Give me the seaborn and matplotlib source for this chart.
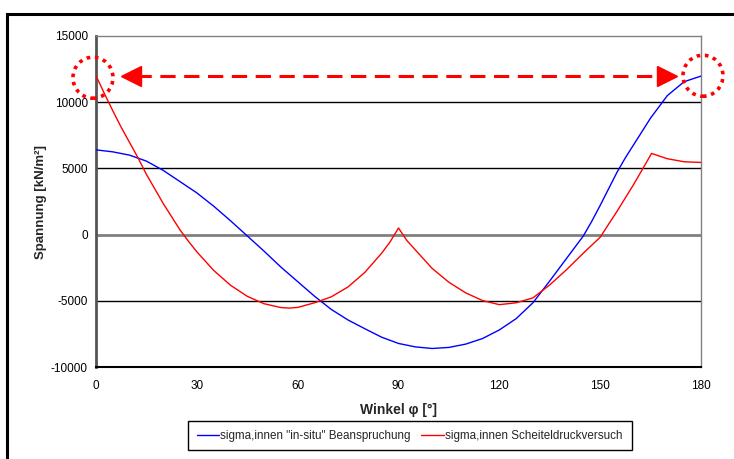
import matplotlib
matplotlib.use('Agg')
import matplotlib.pyplot as plt
from matplotlib.patches import Ellipse, Rectangle
import seaborn as sns
import pandas as pd

# Winkel in Grad
winkel = [0, 5, 10, 15, 20, 25, 30, 35, 40, 45, 50, 55, 60, 65, 70, 75, 80, 85, 90,
          95, 100, 105, 110, 115, 120, 125, 130, 135, 140, 142.5, 145, 147.5, 150,
          152.5, 155, 157.5, 160, 165, 170, 175, 180]

# sigma,innen "in-situ" Beanspruchung
sigma_insitu = [6400, 6250, 6000, 5550, 4850, 4000, 3150, 2150, 1050, -100, -1250, -2450,
                -3550, -4650, -5650, -6450, -7110, -7750, -8220, -8480, -8600, -8520,
                -8270, -7850, -7200, -6350, -5150, -3500, -1800, -950, -100, 1000, 2200,
                3450, 4700, 5800, 6800, 8800, 10500, 11550, 11970]

# Scheiteldruckversuch: Knick bei 90 und 165 Grad
winkel_scheitel = [0, 2.5, 5, 7.5, 10, 12.5, 15, 17.5, 20, 22.5, 25, 27.5, 30, 35, 40, 45,
                   50, 55, 57.5, 60, 65, 70, 75, 80, 85, 87.5, 90, 92.5, 95, 100, 105, 110,
                   115, 120, 125, 130, 135, 140, 145, 150, 155, 160, 165.3, 170, 175, 180]
sigma_scheitel = [12000, 10650, 9350, 8100, 6950, 5800, 4550, 3450, 2350, 1350, 350, -500,
                  -1300, -2700, -3820, -4660, -5220, -5510, -5550, -5500, -5150, -4700,
                  -3950, -2850, -1400, -550, 500, -450, -1150, -2550, -3600, -4400, -4980,
                  -5290, -5150, -4780, -3800, -2650, -1400, -200, 1750, 3800, 6130, 5730,
                  5500, 5450]

lbl_insitu = 'sigma,innen "in-situ" Beanspruchung'
lbl_scheitel = 'sigma,innen Scheiteldruckversuch'

df = pd.concat([
    pd.DataFrame({'winkel': winkel, 'spannung': sigma_insitu, 'serie': lbl_insitu}),
    pd.DataFrame({'winkel': winkel_scheitel, 'spannung': sigma_scheitel, 'serie': lbl_scheitel}),
])

sns.set_style('white')
plt.rcParams['font.family'] = ['Liberation Sans', 'DejaVu Sans']
plt.rcParams['axes.unicode_minus'] = False

fig = plt.figure(figsize=(7.34, 4.59), dpi=100)
ax = fig.add_axes([0.1308, 0.2004, 0.8242, 0.7212])

# outer frame (right and bottom edges lie outside the image)
fig.patches.append(Rectangle((7 / 734, -0.1), 1.2, 1 - 14 / 459 + 0.1, transform=fig.transFigure,
                             fill=False, edgecolor='black', linewidth=2.2))

for yv in [10000, 5000, -5000]:
    ax.axhline(yv, color='black', linewidth=1.0, zorder=1)
ax.axhline(0, color='#808080', linewidth=2.0, zorder=1)

sns.lineplot(data=df, x='winkel', y='spannung', hue='serie', ax=ax,
             palette={lbl_insitu: '#0000ff', lbl_scheitel: '#ff0000'},
             linewidth=1.0, zorder=3, sort=False, estimator=None)

ax.set_xlim(0, 180)
ax.set_ylim(-10000, 15000)
ax.set_xticks([0, 30, 60, 90, 120, 150, 180])
ax.set_yticks([-10000, -5000, 0, 5000, 10000, 15000])
ax.tick_params(axis='both', direction='out', length=4, width=1, labelsize=8.5, pad=2,
               colors='black')
ax.tick_params(axis='x', pad=5)
ax.tick_params(axis='y', color='#555555')
for s in ['top', 'right']:
    ax.spines[s].set_color('#808080')
    ax.spines[s].set_linewidth(1.0)
ax.spines['left'].set_color('#555555')
ax.spines['left'].set_linewidth(2.0)
ax.spines['bottom'].set_color('black')
ax.spines['bottom'].set_linewidth(1.5)

ax.set_xlabel('Winkel φ [°]', fontsize=10, fontweight='bold', labelpad=8)
ax.set_ylabel('Spannung [kN/m²]', fontsize=9.5, fontweight='bold', labelpad=3)

ax.legend(loc='upper center', bbox_to_anchor=(0.5185, -0.163), ncol=2, frameon=True,
          fancybox=False, edgecolor='black', fontsize=8.4, handlelength=1.9,
          handletextpad=0.15, columnspacing=0.9, borderpad=0.75, borderaxespad=0,
          framealpha=1)
ax.get_legend().get_frame().set_linewidth(1.0)

# dashed double arrow with dotted circles
y_arrow = 12000
ax.plot([12, 168], [y_arrow, y_arrow], color='#ff0000', linewidth=2.2,
        dashes=(5, 2.8), zorder=4, clip_on=False)
ax.plot([10.5], [y_arrow], marker='<', markersize=14, color='#ff0000', zorder=5, clip_on=False)
ax.plot([170], [y_arrow], marker='>', markersize=14, color='#ff0000', zorder=5, clip_on=False)
for cx, cy in [(-0.9, 11850), (180.6, 12000)]:
    ax.add_patch(Ellipse((cx, cy), 11.9, 3100, fill=False, edgecolor='#ff0000',
                         linewidth=2.6, linestyle=(0, (1, 1.3)), zorder=5, clip_on=False))

fig.savefig('out.png', dpi=100)
